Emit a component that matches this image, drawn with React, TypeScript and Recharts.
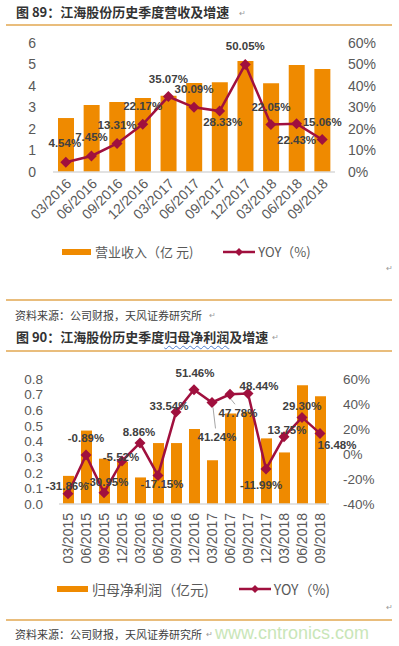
import React from "react";
import { ComposedChart, Bar, Line, XAxis, YAxis, LabelList } from "recharts";

// 图 89 营收
const quarters1 = ["03/2016", "06/2016", "09/2016", "12/2016", "03/2017", "06/2017", "09/2017", "12/2017", "03/2018", "06/2018", "09/2018"];
const revenue = [2.51, 3.12, 3.26, 3.44, 3.55, 4.14, 4.18, 5.16, 4.13, 4.98, 4.79];
const revenueYoy = [4.54, 7.45, 13.31, 22.17, 35.07, 30.09, 28.33, 50.05, 22.05, 22.43, 15.06];
const revenueTicks = [0, 1, 2, 3, 4, 5, 6];
const revenueYoyTicks = [0, 10, 20, 30, 40, 50, 60];

// 图 90 归母净利润
const quarters2 = ["03/2015", "06/2015", "09/2015", "12/2015", "03/2016", "06/2016", "09/2016", "12/2016", "03/2017", "06/2017", "09/2017", "12/2017", "03/2018", "06/2018", "09/2018"];
const profit = [0.18, 0.47, 0.29, 0.27, 0.17, 0.39, 0.39, 0.48, 0.28, 0.58, 0.59, 0.42, 0.33, 0.76, 0.69];
const profitYoy = [-31.86, -0.89, -30.95, -5.52, 8.86, -17.15, 33.54, 51.46, 41.24, 47.78, 48.44, -11.99, 13.75, 29.3, 16.48];
const profitTicks = [0, 0.1, 0.2, 0.3, 0.4, 0.5, 0.6, 0.7, 0.8];
const profitYoyTicks = [-40, -20, 0, 20, 40, 60];

// label placement (dx, dy of text centre from the marker)
const labelPos1 = [[-1, -19], [0, -19], [0, -18], [0, -18], [0, -18], [0, -18], [3, 11], [0, -18], [0, -18], [0, 16], [0, -18]];
const labelPos2 = [[-1, -8], [0, -17], [3, -11], [-1, -4], [-1, -11], [4, 9], [-7, -6], [1, -17], [5, 35], [8, 19], [11, -7], [-5, 16], [3, -7], [0, -11], [17, 12]];

const data1 = quarters1.map((q, i) => ({ q, value: revenue[i], yoy: revenueYoy[i] }));
const data2 = quarters2.map((q, i) => ({ q, value: profit[i], yoy: profitYoy[i] }));

const ORANGE = "#EF8A00";
const WINE = "#A0103E";
const GREY = "#595959";
const CJK = '"Noto Sans CJK SC", "Noto Sans", sans-serif';
const LAT = '"Liberation Sans", Arial, sans-serif';

const Diamond = (props: any) => {
  const { cx, cy, index } = props;
  if (cx == null || cy == null) return null;
  const s = 5.5;
  return <path key={`dm-${index}`} d={`M${cx},${cy - s}L${cx + s},${cy}L${cx},${cy + s}L${cx - s},${cy}Z`} fill={WINE} />;
};

const makeLabel = (pos: number[][], leaders: number[] = []) => (props: any) => {
  const x = props.x ?? props.viewBox?.x;
  const y = props.y ?? props.viewBox?.y;
  const { value, index } = props;
  if (x == null || y == null) return null;
  const [dx, dy] = pos[index] || [0, -18];
  return (
    <g key={`lb-${index}`}>
      {leaders.includes(index) && (
        <line x1={x + 1} y1={y + 5} x2={x + dx * 0.5 + 1} y2={y + dy - 9} stroke="#A6A6A6" strokeWidth={1} />
      )}
      <text x={x + dx} y={y + dy} textAnchor="middle" dominantBaseline="central" fontSize={11.5} fontWeight="bold" fill="#404040" fontFamily={LAT}>
        {Number(value).toFixed(2)}%
      </text>
    </g>
  );
};

const SlantTick = (props: any) => {
  const { x, y, payload } = props;
  const tx = x + 3;
  const ty = y + 9;
  return (
    <text x={tx} y={ty} transform={`rotate(-45, ${tx}, ${ty})`} textAnchor="end" dominantBaseline="central" fontSize={14} fill={GREY} fontFamily={LAT}>
      {payload.value}
    </text>
  );
};

const UprightTick = (props: any) => {
  const { x, y, payload } = props;
  const ty = y + 9;
  return (
    <text x={x} y={ty} transform={`rotate(-90, ${x}, ${ty})`} textAnchor="end" dominantBaseline="central" fontSize={14} fill={GREY} fontFamily={LAT}>
      {payload.value}
    </text>
  );
};

const Rule = ({ top }: { top: number }) => (
  <div style={{ position: "absolute", left: 6, top, width: 386, height: 2, background: "#E9BD7C" }} />
);

const Ret = ({ left, top }: { left: number; top: number }) => (
  <div style={{ position: "absolute", left, top, fontSize: 8, color: "#9A9A9A", fontFamily: LAT, lineHeight: "10px" }}>↵</div>
);

const LineKey = () => (
  <svg width={32} height={10} style={{ display: "block" }}>
    <line x1={0} y1={5} x2={32} y2={5} stroke={WINE} strokeWidth={2.5} />
    <path d="M16,1L20,5L16,9L12,5Z" fill={WINE} />
  </svg>
);

export default function App() {
  const tickStyle = { fontSize: 14, fill: GREY, fontFamily: LAT };
  return (
    <div style={{ position: "absolute", left: 0, top: 0, width: 399, height: 646, background: "#fff", overflow: "hidden" }}>
      <div style={{ position: "absolute", left: 16, top: 3, fontSize: 13, fontWeight: 700, color: "#333", fontFamily: CJK, lineHeight: "18px", whiteSpace: "nowrap" }}>
        图 89：江海股份历史季度营收及增速
      </div>
      <Ret left={239} top={9} />
      <Rule top={24} />

      <div style={{ position: "absolute", left: 0, top: 30 }}>
        <ComposedChart width={399} height={200} data={data1} margin={{ top: 13, right: 0, bottom: 0, left: 0 }}>
          <XAxis dataKey="q" height={58} interval={0} tickSize={0} tickMargin={0} axisLine={{ stroke: "#D9D9D9", strokeWidth: 1.5 }} tickLine={false} tick={<SlantTick />} />
          <YAxis yAxisId="left" width={53} domain={[0, 6]} ticks={revenueTicks} interval={0} axisLine={false} tickLine={false} tickSize={0} tickMargin={17} tick={tickStyle} />
          <YAxis yAxisId="right" orientation="right" width={64} domain={[0, 60]} ticks={revenueYoyTicks} interval={0} tickFormatter={(v: number) => `${v}%`} axisLine={false} tickLine={false} tickSize={0} tickMargin={13} tick={tickStyle} />
          <Bar yAxisId="left" dataKey="value" fill={ORANGE} barSize={16} isAnimationActive={false} />
          <Line yAxisId="right" dataKey="yoy" stroke={WINE} strokeWidth={2.5} dot={<Diamond />} activeDot={false} isAnimationActive={false}>
            <LabelList dataKey="yoy" content={makeLabel(labelPos1)} />
          </Line>
        </ComposedChart>
      </div>

      <div style={{ position: "absolute", left: 62, top: 243, display: "flex", alignItems: "center", fontFamily: CJK, fontSize: 13, color: GREY, whiteSpace: "nowrap", lineHeight: "18px" }}>
        <div style={{ width: 29, height: 6, background: ORANGE, marginRight: 4 }} />
        <span>营业收入（亿 元)</span>
        <div style={{ width: 30 }} />
        <LineKey />
        <span style={{ marginLeft: 3 }}>YOY（%)</span>
      </div>
      <Ret left={386} top={264} />
      <Rule top={299} />
      <div style={{ position: "absolute", left: 15, top: 307, fontSize: 11, color: "#404040", fontFamily: CJK, lineHeight: "16px", whiteSpace: "nowrap" }}>
        资料来源：公司财报，天风证券研究所
      </div>
      <Ret left={209} top={311} />

      <div style={{ position: "absolute", left: 16, top: 328, fontSize: 13, fontWeight: 700, color: "#333", fontFamily: CJK, lineHeight: "18px", whiteSpace: "nowrap" }}>
        图 90：江海股份历史季度
        <span style={{ textDecoration: "underline wavy #4F7FD0", textDecorationThickness: 1, textUnderlineOffset: 3 }}>归母净利润</span>
        及增速
      </div>
      <Ret left={272} top={333} />
      <Rule top={350} />

      <div style={{ position: "absolute", left: 0, top: 355 }}>
        <ComposedChart width={399} height={215} data={data2} margin={{ top: 24, right: 0, bottom: 0, left: 0 }}>
          <XAxis dataKey="q" height={66} interval={0} tickSize={0} tickMargin={0} axisLine={{ stroke: "#D9D9D9", strokeWidth: 1.5 }} tickLine={false} tick={<UprightTick />} />
          <YAxis yAxisId="left" width={59} domain={[0, 0.8]} ticks={profitTicks} interval={0} tickFormatter={(v: number) => v.toFixed(1)} axisLine={false} tickLine={false} tickSize={0} tickMargin={16} tick={{ ...tickStyle, fontSize: 13.5 }} />
          <YAxis yAxisId="right" orientation="right" width={70} domain={[-40, 60]} ticks={profitYoyTicks} interval={0} tickFormatter={(v: number) => `${v}%`} axisLine={false} tickLine={false} tickSize={0} tickMargin={14} tick={{ ...tickStyle, fontSize: 13.5 }} />
          <Bar yAxisId="left" dataKey="value" fill={ORANGE} barSize={11} isAnimationActive={false} />
          <Line yAxisId="right" dataKey="yoy" stroke={WINE} strokeWidth={2.5} dot={<Diamond />} activeDot={false} isAnimationActive={false}>
            <LabelList dataKey="yoy" content={makeLabel(labelPos2, [8, 9])} />
          </Line>
        </ComposedChart>
      </div>

      <div style={{ position: "absolute", left: 57, top: 580, display: "flex", alignItems: "center", fontFamily: CJK, fontSize: 14, color: GREY, whiteSpace: "nowrap", lineHeight: "18px" }}>
        <div style={{ width: 31, height: 6, background: ORANGE, marginRight: 4 }} />
        <span>归母净利润（亿元)</span>
        <div style={{ width: 30 }} />
        <LineKey />
        <span style={{ marginLeft: 3 }}>YOY（%)</span>
      </div>
      <Ret left={386} top={603} />
      <Rule top={619} />
      <div style={{ position: "absolute", left: 15, top: 626, fontSize: 11, color: "#404040", fontFamily: CJK, lineHeight: "16px", whiteSpace: "nowrap" }}>
        资料来源：公司财报，天风证券研究所
      </div>
      <Ret left={206} top={630} />
      <div style={{ position: "absolute", left: 215, top: 621, fontSize: 18, color: "#C9E6B8", fontFamily: LAT, lineHeight: "24px", whiteSpace: "nowrap" }}>
        www.cntronics.com
      </div>
    </div>
  );
}
